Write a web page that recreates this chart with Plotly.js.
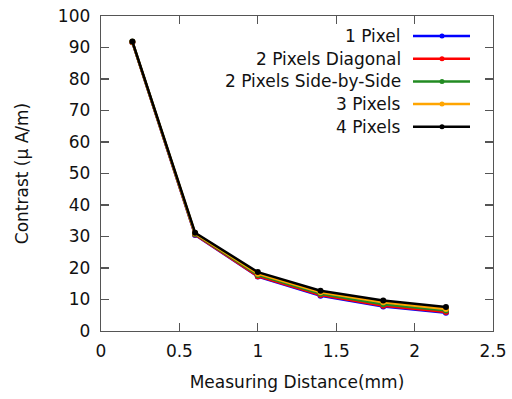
<!DOCTYPE html>
<html><head><meta charset="utf-8">
<script src="https://cdn.plot.ly/plotly-3.0.1.min.js"></script>
<style>html,body{margin:0;padding:0;background:#fff}#plot{width:512px;height:399px}</style>
</head><body><div id="plot"></div>
<script>
const distance = [0.2, 0.6, 1.0, 1.4, 1.8, 2.2];
const onePixel = [91.7, 30.5, 17.3, 11.2, 7.8, 5.8];
const twoDiagonal = [91.7, 30.6, 17.4, 11.4, 8.0, 6.0];
const twoSideBySide = [91.8, 30.8, 17.8, 11.8, 8.5, 6.5];
const threePixels = [91.8, 31.0, 18.2, 12.3, 9.1, 7.0];
const fourPixels = [91.9, 31.2, 18.7, 12.8, 9.7, 7.6];
const seriesNames = ["1 Pixel", "2 Pixels Diagonal", "2 Pixels Side-by-Side", "3 Pixels", "4 Pixels"];
const seriesColors = ["#0000ff", "#ff0000", "#228b22", "#ffa500", "#000000"];
const seriesValues = [onePixel, twoDiagonal, twoSideBySide, threePixels, fourPixels];

const font = {family: "DejaVu Sans, Verdana, sans-serif", size: 17, color: "#111"};
const traces = seriesValues.map((v, i) => ({
  x: distance, y: v, type: "scatter", mode: "lines+markers", name: seriesNames[i],
  line: {color: seriesColors[i], width: 2.5}, marker: {color: seriesColors[i], size: 6},
  showlegend: false, hoverinfo: "skip"
}));

// gnuplot-style key: text right-aligned, sample on the right
const L = 101, T = 16, W = 392, H = 315;
const px = x => (x - L) / W, py = y => (T + H - y) / H;
const annotations = [], shapes = [];
seriesNames.forEach((n, i) => {
  const yy = 36 + i * 22.7;
  annotations.push({xref: "paper", yref: "paper", x: px(403), y: py(yy), xanchor: "right", yanchor: "middle",
    text: n, showarrow: false, font: font});
  shapes.push({type: "line", xref: "paper", yref: "paper", x0: px(413), x1: px(470), y0: py(yy), y1: py(yy),
    line: {color: seriesColors[i], width: 2.5}});
  shapes.push({type: "circle", xref: "paper", yref: "paper", x0: px(439.5), x1: px(444.5), y0: py(yy + 2.5), y1: py(yy - 2.5),
    fillcolor: seriesColors[i], line: {color: seriesColors[i], width: 0}});
});

const axisCommon = {showline: true, mirror: "ticks", linecolor: "#555", linewidth: 1.3, ticks: "inside", ticklen: 8,
  tickcolor: "#555", tickwidth: 1.3, showgrid: false, zeroline: false, tickfont: font};
const layout = {
  width: 512, height: 399, margin: {l: 101, r: 19, t: 16, b: 68},
  paper_bgcolor: "#fff", plot_bgcolor: "#fff", font: font, showlegend: false,
  xaxis: Object.assign({}, axisCommon, {range: [0, 2.5], dtick: 0.5, ticklabelstandoff: 4, title: {text: "Measuring Distance(mm)", font: font, standoff: 16}}),
  yaxis: Object.assign({}, axisCommon, {range: [0, 100], dtick: 10, ticklabelstandoff: 6, title: {text: "Contrast (μ A/m)", font: font, standoff: 25}}),
  annotations: annotations, shapes: shapes
};
Plotly.newPlot("plot", traces, layout, {staticPlot: true, displayModeBar: false});
</script></body></html>
